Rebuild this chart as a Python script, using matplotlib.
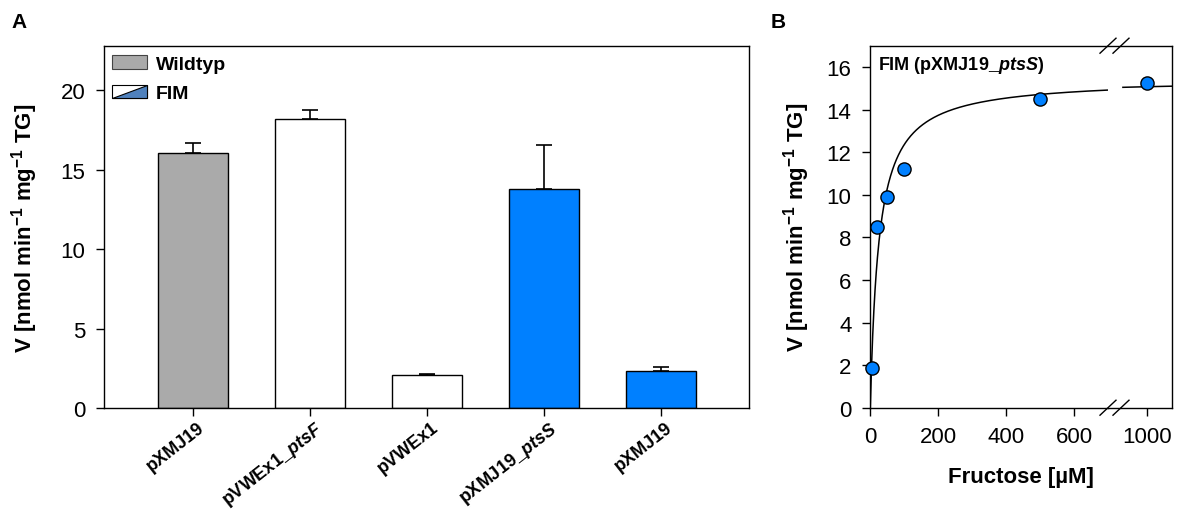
import matplotlib
matplotlib.use("Agg")
import matplotlib.pyplot as plt
import numpy as np
from matplotlib.patches import Rectangle, Polygon, Patch
from matplotlib.legend_handler import HandlerBase
from matplotlib.lines import Line2D
import matplotlib.transforms as mtransforms

plt.rcParams['font.family'] = ['Liberation Sans', 'DejaVu Sans']
plt.rcParams['mathtext.fontset'] = 'custom'
plt.rcParams['mathtext.rm'] = 'Liberation Sans'
plt.rcParams['mathtext.it'] = 'Liberation Sans:italic'
plt.rcParams['mathtext.bf'] = 'Liberation Sans:bold'
plt.rcParams['mathtext.bfit'] = 'Liberation Sans:italic:bold'

# ---------------- data ----------------
bar_labels = ['pXMJ19', r'pVWEx1_$\mathbfit{ptsF}$', 'pVWEx1', r'pXMJ19_$\mathbfit{ptsS}$', 'pXMJ19']
bar_values = [16.05, 18.2, 2.1, 13.8, 2.33]
bar_errors = [0.65, 0.55, 0.05, 2.75, 0.25]
bar_colors = ['#aaaaaa', '#ffffff', '#ffffff', '#0080ff', '#0080ff']

fructose = [5, 20, 50, 100, 500, 1000]
velocity = [1.86, 8.48, 9.91, 11.2, 14.52, 15.27]
vmax_fit = 15.45
km_fit = 25.0

ylabel = r'V [nmol min$^{\mathbf{-1}}$ mg$^{\mathbf{-1}}$ TG]'

W, H = 1178, 510
fig = plt.figure(figsize=(W / 100, H / 100), dpi=100)

def fx(px):
    return px / W

def fy(py):
    return 1 - py / H

TICK = 16
LAB = 16
PAD = 7.5

# ---------------- panel A ----------------
axA = fig.add_axes([fx(104.3), fy(409), fx(749 - 104.3), (409 - 47) / H])
x = np.arange(len(bar_values))
axA.bar(x, bar_values, width=0.6, color=bar_colors, edgecolor='black', linewidth=1.0, zorder=2)
axA.errorbar(x, bar_values, yerr=[np.zeros(len(bar_errors)), bar_errors], fmt='none',
             ecolor='black', elinewidth=1.2, capsize=5.5, capthick=1.2, zorder=1)
axA.set_xlim(-0.76, 4.75)
axA.set_ylim(0, 22.8)
axA.set_yticks([0, 5, 10, 15, 20])
axA.tick_params(axis='both', direction='out', length=6, width=1, labelsize=TICK)
axA.tick_params(axis='y', pad=PAD)
axA.set_xticks(x)
axA.set_xticklabels(bar_labels, rotation=38, ha='right', va='top', rotation_mode='anchor',
                    fontsize=13, fontweight='bold')
offset = mtransforms.ScaledTranslation(4 / 100, 3 / 100, fig.dpi_scale_trans)
for lab in axA.get_xticklabels():
    lab.set_transform(lab.get_transform() + offset)
axA.set_ylabel(ylabel, fontsize=LAB, fontweight='bold')
axA.yaxis.set_label_coords((40 - 104.3) / (749 - 104.3), 0.5)
for s in axA.spines.values():
    s.set_linewidth(1.0)


class HalfHandler(HandlerBase):
    def create_artists(self, legend, orig_handle, xdescent, ydescent, width, height, fontsize, trans):
        x0, y0 = -xdescent, -ydescent
        r = Rectangle((x0, y0), width, height, facecolor='white', edgecolor='black', lw=0.8, transform=trans)
        tri = Polygon([[x0, y0], [x0 + width, y0], [x0 + width, y0 + height]], closed=True,
                      facecolor='#4f81bd', edgecolor='black', lw=0.8, transform=trans)
        return [r, tri]


wild = Patch(facecolor='#aaaaaa', edgecolor='#444444', linewidth=0.8)
fim = Patch(facecolor='white', edgecolor='black')
leg = axA.legend([wild, fim], ['Wildtyp', 'FIM'], handler_map={fim: HalfHandler()},
                 loc='upper left', bbox_to_anchor=(0.012, 0.974), frameon=False,
                 borderpad=0, borderaxespad=0, handlelength=1.8, handleheight=0.68,
                 handletextpad=0.45, labelspacing=0.6, prop={'weight': 'bold', 'size': 14})

fig.text(fx(11), fy(22), 'A', fontsize=15, fontweight='bold', va='center', ha='left')

# ---------------- panel B ----------------
b_bottom, b_top = 408.7, 46.7
ax1 = fig.add_axes([fx(870.3), fy(b_bottom), fx(1108.3 - 870.3), (b_bottom - b_top) / H])
ax2 = fig.add_axes([fx(1108.3), fy(b_bottom), fx(1172 - 1108.3), (b_bottom - b_top) / H])

ax1.set_xlim(0, 700)
ax2.set_xlim(887, 1074.4)
for ax in (ax1, ax2):
    ax.set_ylim(0, 17)
    ax.tick_params(axis='both', direction='out', length=6, width=1, labelsize=TICK, pad=PAD)
    for s in ax.spines.values():
        s.set_linewidth(1.0)
ax1.spines['right'].set_visible(False)
ax2.spines['left'].set_visible(False)
ax2.tick_params(axis='y', left=False, labelleft=False)
ax1.set_xticks([0, 200, 400, 600])
ax2.set_xticks([1000])
ax1.set_yticks(np.arange(0, 17, 2))

s1 = np.linspace(0, 700, 600)
ax1.plot(s1, vmax_fit * s1 / (km_fit + s1), color='black', lw=1.1, zorder=2)
s2 = np.linspace(930, 1074.4, 100)
ax2.plot(s2, vmax_fit * s2 / (km_fit + s2), color='black', lw=1.1, zorder=2)

fr = np.array(fructose)
ve = np.array(velocity)
m1 = fr <= 700
ax1.plot(fr[m1], ve[m1], 'o', color='#0080ff', markeredgecolor='black', markeredgewidth=1.0,
         markersize=9.5, clip_on=False, zorder=3)
ax2.plot(fr[~m1], ve[~m1], 'o', color='#0080ff', markeredgecolor='black', markeredgewidth=1.0,
         markersize=9.5, clip_on=False, zorder=3)

ax1.set_ylabel(ylabel, fontsize=LAB, fontweight='bold')
ax1.yaxis.set_label_coords((812 - 870.3) / (1108.3 - 870.3), 0.5)
fig.text((870.3 + 1172) / 2 / W, fy(478), 'Fructose [µM]', fontsize=LAB, fontweight='bold',
         ha='center', va='center')
fig.text(fx(878), fy(66), r'FIM (pXMJ19_$\mathbfit{ptsS}$)', fontsize=13, fontweight='bold',
         ha='left', va='center')
fig.text(fx(771), fy(22), 'B', fontsize=15, fontweight='bold', va='center', ha='left')

# break marks
for yc in (b_top, b_bottom):
    for xc in (1108, 1121):
        fig.add_artist(Line2D([fx(xc - 8), fx(xc + 8)], [fy(yc + 7.5), fy(yc - 7.5)],
                              transform=fig.transFigure, color='black', lw=1.0))

fig.savefig('out.png', dpi=100)
